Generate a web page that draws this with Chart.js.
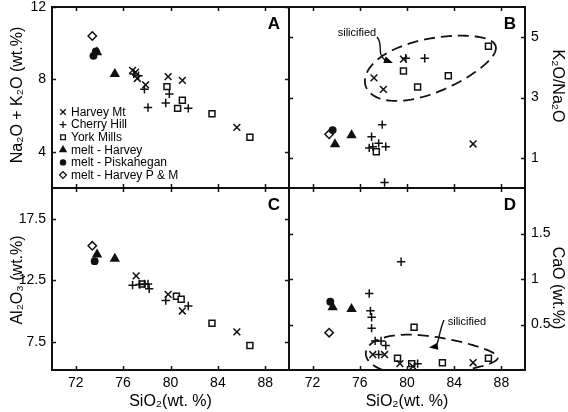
<!DOCTYPE html>
<html>
<head>
<meta charset="utf-8">
<script src="https://cdn.jsdelivr.net/npm/chart.js@4.4.1/dist/chart.umd.min.js"></script>
<style>
  html, body { margin: 0; padding: 0; background: #fff; }
  #wrap { position: relative; width: 568px; height: 412px; overflow: hidden; }
  #wrap canvas { position: absolute; left: -30px; top: -30px; }
</style>
</head>
<body>
<div id="wrap">
  <canvas id="panelA" width="628" height="472"></canvas>
  <canvas id="panelB" width="628" height="472"></canvas>
  <canvas id="panelC" width="628" height="472"></canvas>
  <canvas id="panelD" width="628" height="472"></canvas>
</div>
<script>
// series names (legend order)
const seriesNames = ['Harvey Mt', 'Cherry Hill', 'York Mills', 'melt - Harvey', 'melt - Piskahegan', 'melt - Harvey P & M'];

// A: SiO2 vs Na2O + K2O
const alkHarveyMt = [[76.8, 8.5], [77.05, 8.4], [77.2, 8.05], [77.9, 7.7], [79.8, 8.15], [81.0, 7.95], [85.6, 5.35]];
const alkCherryHill = [[76.9, 8.3], [77.3, 8.2], [77.8, 7.45], [78.1, 6.45], [79.6, 6.7], [79.9, 7.2], [81.5, 6.4]];
const alkYorkMills = [[79.7, 7.6], [80.6, 6.4], [81.0, 6.85], [83.5, 6.1], [86.7, 4.8]];
const alkMeltHarvey = [[73.8, 9.5], [75.3, 8.3]];
const alkMeltPiskahegan = [[73.5, 9.3], [73.7, 9.55]];
const alkMeltHarveyPM = [[73.4, 10.4]];

// B: SiO2 vs K2O/Na2O
const ratioHarveyMt = [[77.2, 3.65], [78.0, 3.27], [79.7, 4.27], [85.6, 1.46]];
const ratioCherryHill = [[76.8, 1.33], [77.0, 1.7], [77.1, 1.37], [77.6, 1.48], [77.9, 2.1], [78.1, 0.18], [78.2, 1.37], [79.9, 4.3], [81.5, 4.3]];
const ratioYorkMills = [[77.4, 1.2], [79.7, 3.88], [80.9, 3.35], [83.5, 3.72], [86.9, 4.7]];
const ratioMeltHarvey = [[73.9, 1.45], [75.3, 1.75]];
const ratioMeltPiskahegan = [[73.7, 1.92]];
const ratioMeltHarveyPM = [[73.4, 1.78]];

// C: SiO2 vs Al2O3
const alHarveyMt = [[77.1, 12.85], [79.8, 11.35], [81.0, 10.0], [85.6, 8.3]];
const alCherryHill = [[76.8, 12.1], [77.4, 12.15], [77.8, 12.2], [78.1, 12.2], [78.2, 11.8], [79.6, 10.85], [81.5, 10.4]];
const alYorkMills = [[77.6, 12.2], [80.5, 11.2], [80.9, 10.95], [83.5, 9.0], [86.7, 7.2]];
const alMeltHarvey = [[73.8, 14.6], [75.3, 14.25]];
const alMeltPiskahegan = [[73.6, 14.05]];
const alMeltHarveyPM = [[73.4, 15.3]];

// D: SiO2 vs CaO
const caHarveyMt = [[77.1, 0.17], [78.1, 0.17], [79.4, 0.07], [80.5, 0.04], [85.6, 0.08]];
const caCherryHill = [[76.8, 0.84], [76.9, 0.65], [77.0, 0.58], [77.0, 0.46], [77.3, 0.32], [77.8, 0.32], [78.2, 0.27], [77.6, 0.17], [79.5, 1.19], [80.9, 0.07]];
const caYorkMills = [[79.2, 0.13], [80.6, 0.47], [80.4, 0.07], [83.0, 0.08], [86.9, 0.13]];
const caMeltHarvey = [[73.7, 0.69], [75.3, 0.67]];
const caMeltPiskahegan = [[73.5, 0.75]];
const caMeltHarveyPM = [[73.4, 0.41]];

// tick labels
const sio2Labels = [72, 76, 80, 84, 88];
const alkLabels = [4, 8, 12];
const ratioLabels = [1, 3, 5];
const alLabels = [7.5, 12.5, 17.5];
const caLabels = [0.5, 1, 1.5];

const INK = '#111';
const FONT = '"Liberation Sans", Arial, Helvetica, sans-serif';
Chart.defaults.font.family = FONT;
Chart.defaults.color = '#000';

const markStyles = [
  { pointStyle: 'crossRot', radius: 4.8, fill: false },
  { pointStyle: 'cross', radius: 4.2, fill: false },
  { pointStyle: 'rect', radius: 4.2, fill: false },
  { pointStyle: 'triangle', radius: 4.5, fill: true },
  { pointStyle: 'circle', radius: 3.2, fill: true },
  { pointStyle: 'rectRot', radius: 4.2, fill: false }
];

// canvases sit 30px up/left of the page so axis paddings never push the plot
const OFF = 30, CW = 628, CH = 472;

// inward tick marks on all four sides plus the box
const frameTicks = {
  id: 'frameTicks',
  afterDraw(chart) {
    const { ctx, chartArea: a, scales: { x, y } } = chart;
    const len = 4;
    ctx.save();
    ctx.strokeStyle = INK;
    ctx.lineWidth = 1.5;
    ctx.beginPath();
    x.ticks.forEach(t => {
      const px = Math.round(x.getPixelForValue(t.value)) + 0.5;
      ctx.moveTo(px, a.bottom); ctx.lineTo(px, a.bottom - len);
      ctx.moveTo(px, a.top); ctx.lineTo(px, a.top + len);
    });
    y.ticks.forEach(t => {
      const py = Math.round(y.getPixelForValue(t.value)) + 0.5;
      ctx.moveTo(a.left, py); ctx.lineTo(a.left + len, py);
      ctx.moveTo(a.right, py); ctx.lineTo(a.right - len, py);
    });
    ctx.stroke();
    ctx.lineWidth = 2;
    ctx.strokeRect(a.left, a.top, a.right - a.left, a.bottom - a.top);
    ctx.restore();
  }
};

function letterPlugin(letter) {
  return {
    id: 'letter' + letter,
    afterDraw(chart) {
      const { ctx, chartArea: a } = chart;
      ctx.save();
      ctx.font = 'bold 17px ' + FONT;
      ctx.fillStyle = '#000';
      ctx.textAlign = 'right';
      ctx.textBaseline = 'top';
      ctx.fillText(letter, a.right - 9, a.top + 9);
      ctx.restore();
    }
  };
}

// rotated y-axis title, placed beside the plot box
function sideTitle(text, right, centerY) {
  return {
    id: 'sideTitle',
    afterDraw(chart) {
      const { ctx, chartArea: a } = chart;
      ctx.save();
      ctx.font = '16px ' + FONT;
      ctx.fillStyle = '#000';
      ctx.textAlign = 'center';
      ctx.textBaseline = 'middle';
      if (right) {
        ctx.translate(a.right + 32, a.top + centerY);
        ctx.rotate(Math.PI / 2);
      } else {
        ctx.translate(a.left - 34, a.top + centerY);
        ctx.rotate(-Math.PI / 2);
      }
      ctx.fillText(text, 0, 0);
      ctx.restore();
    }
  };
}

// legend drawn inside panel A
const legendInside = {
  id: 'legendInside',
  afterDraw(chart) {
    const { ctx, chartArea: a } = chart;
    ctx.save();
    ctx.font = '12px ' + FONT;
    ctx.textBaseline = 'middle';
    ctx.textAlign = 'left';
    chart.data.datasets.forEach((ds, i) => {
      const yy = a.top + 105 + i * 12.6;
      const xx = a.left + 11;
      ctx.strokeStyle = INK;
      ctx.fillStyle = ds.backgroundColor;
      ctx.lineWidth = 1.3;
      Chart.helpers.drawPoint(ctx, { pointStyle: ds.pointStyle, radius: ds.pointRadius * 0.8, rotation: 0, borderWidth: 1.3 }, xx, yy);
      ctx.fillStyle = '#000';
      ctx.fillText(ds.label, a.left + 19, yy + 0.5);
    });
    ctx.restore();
  }
};

// dashed "silicified" outline with label and arrow
function silicified(e) {
  return {
    id: 'silicified',
    afterDatasetsDraw(chart) {
      const { ctx, chartArea: a, scales: { x, y } } = chart;
      const cx = x.getPixelForValue(e.x), cy = y.getPixelForValue(e.y);
      const rot = e.angle * Math.PI / 180;
      ctx.save();
      ctx.beginPath();
      ctx.rect(a.left, a.top, a.right - a.left, a.bottom - a.top);
      ctx.clip();
      ctx.beginPath();
      for (let i = 0; i <= 160; i++) {
        const t = i / 160 * 2 * Math.PI;
        const u = e.a * Math.cos(t);
        const v = e.b * Math.sin(t) * (1 - e.egg * Math.cos(t));
        const px = cx + u * Math.cos(rot) - v * Math.sin(rot);
        const py = cy + u * Math.sin(rot) + v * Math.cos(rot);
        if (i) ctx.lineTo(px, py); else ctx.moveTo(px, py);
      }
      ctx.strokeStyle = INK;
      ctx.lineWidth = 1.8;
      ctx.setLineDash([11, 6]);
      ctx.stroke();
      ctx.setLineDash([]);

      // label + arrow
      const tx = x.getPixelForValue(e.textX), ty = y.getPixelForValue(e.textY);
      ctx.font = '11px ' + FONT;
      ctx.fillStyle = '#000';
      ctx.textAlign = 'center';
      ctx.textBaseline = 'middle';
      ctx.fillText('silicified', tx, ty);
      const p = e.arrow.map(q => [tx + q[0], ty + q[1]]);
      ctx.beginPath();
      ctx.moveTo(p[0][0], p[0][1]);
      ctx.bezierCurveTo(p[1][0], p[1][1], p[2][0], p[2][1], p[3][0], p[3][1]);
      ctx.lineWidth = 1.4;
      ctx.stroke();
      const tip = p[4], base = p[3];
      const ang = Math.atan2(tip[1] - base[1], tip[0] - base[0]);
      ctx.beginPath();
      ctx.moveTo(tip[0], tip[1]);
      ctx.lineTo(tip[0] - 9 * Math.cos(ang) + 3.5 * Math.sin(ang), tip[1] - 9 * Math.sin(ang) - 3.5 * Math.cos(ang));
      ctx.lineTo(tip[0] - 9 * Math.cos(ang) - 3.5 * Math.sin(ang), tip[1] - 9 * Math.sin(ang) + 3.5 * Math.cos(ang));
      ctx.closePath();
      ctx.fill();
      ctx.restore();
    }
  };
}

const labelIf = list => v => list.includes(Math.round(v * 100) / 100) ? String(Math.round(v * 100) / 100) : null;

function makePanel(id, cfg) {
  const area = cfg.area; // page coords of plot box
  const yW = cfg.yRight ? 43 : 52;
  const xH = cfg.showX ? 42 : 0;
  const padding = {
    left: cfg.yRight ? OFF + area.left : OFF + area.left - yW,
    right: cfg.yRight ? (CW - OFF) - area.right - yW : (CW - OFF) - area.right,
    top: OFF + area.top,
    bottom: (CH - OFF) - area.bottom - xH
  };
  const datasets = cfg.series.map((pts, i) => ({
    label: seriesNames[i],
    data: pts.map(p => ({ x: p[0], y: p[1] })),
    pointStyle: markStyles[i].pointStyle,
    pointRadius: markStyles[i].radius,
    borderColor: INK,
    backgroundColor: markStyles[i].fill ? INK : '#fff',
    borderWidth: 1.5
  }));
  return new Chart(document.getElementById(id), {
    type: 'scatter',
    data: { datasets },
    options: {
      responsive: false,
      animation: false,
      events: [],
      devicePixelRatio: 1,
      layout: { padding },
      plugins: { legend: { display: false }, tooltip: { enabled: false } },
      scales: {
        x: {
          type: 'linear', min: 70, max: 90,
          grid: { display: false, drawTicks: false },
          border: { display: false },
          ticks: {
            display: cfg.showX, stepSize: 2, autoSkip: false, maxRotation: 0,
            padding: 5, font: { size: 14 }, color: '#000',
            callback: labelIf(sio2Labels)
          },
          title: {
            display: cfg.showX, text: 'SiO\u2082(wt. %)', color: '#000',
            font: { size: 16 }, padding: { top: 0, bottom: 1 }
          },
          afterFit(s) { s.height = xH; }
        },
        y: {
          type: 'linear', min: cfg.yMin, max: cfg.yMax,
          position: cfg.yRight ? 'right' : 'left',
          grid: { display: false, drawTicks: false },
          border: { display: false },
          ticks: {
            stepSize: cfg.yStep, autoSkip: false, padding: 6,
            font: { size: 14 }, color: '#000',
            callback: labelIf(cfg.yLabels)
          },
          title: { display: false },
          afterFit(s) { s.width = yW; }
        }
      }
    },
    plugins: cfg.plugins
  });
}

makePanel('panelA', {
  area: { left: 52, top: 7, right: 289, bottom: 188 },
  yMin: 2, yMax: 12, yStep: 2, yLabels: alkLabels,
  series: [alkHarveyMt, alkCherryHill, alkYorkMills, alkMeltHarvey, alkMeltPiskahegan, alkMeltHarveyPM],
  plugins: [frameTicks, letterPlugin('A'), legendInside, sideTitle('Na\u2082O + K\u2082O (wt.%)', false, 88)]
});

makePanel('panelB', {
  area: { left: 289, top: 7, right: 525, bottom: 188 },
  yRight: true,
  yMin: 0, yMax: 6, yStep: 1, yLabels: ratioLabels,
  series: [ratioHarveyMt, ratioCherryHill, ratioYorkMills, ratioMeltHarvey, ratioMeltPiskahegan, ratioMeltHarveyPM],
  plugins: [frameTicks, letterPlugin('B'), sideTitle('K\u2082O/Na\u2082O', true, 79), silicified({
    x: 82.0, y: 4.05, a: 68, b: 27, egg: 0.2, angle: -17,
    textX: 75.76, textY: 5.14,
    arrow: [[20, 4], [27, 12], [19, 20], [28, 27], [36, 30]]
  })]
});

makePanel('panelC', {
  area: { left: 52, top: 188, right: 289, bottom: 370 },
  showX: true,
  yMin: 5.2, yMax: 20, yStep: 2.5, yLabels: alLabels,
  series: [alHarveyMt, alCherryHill, alYorkMills, alMeltHarvey, alMeltPiskahegan, alMeltHarveyPM],
  plugins: [frameTicks, letterPlugin('C'), sideTitle('Al\u2082O\u2083 (wt.%)', false, 92)]
});

makePanel('panelD', {
  area: { left: 289, top: 188, right: 525, bottom: 370 },
  showX: true, yRight: true,
  yMin: 0, yMax: 2, yStep: 0.5, yLabels: caLabels,
  series: [caHarveyMt, caCherryHill, caYorkMills, caMeltHarvey, caMeltPiskahegan, caMeltHarveyPM],
  plugins: [frameTicks, letterPlugin('D'), sideTitle('CaO (wt.%)', true, 100), silicified({
    x: 82.1, y: 0.16, a: 66, b: 19, egg: 0.35, angle: 2,
    textX: 85.08, textY: 0.527,
    arrow: [[-23, -2], [-28, 10], [-28, 20], [-31, 24.5], [-38, 25.5]]
  })]
});
</script>
</body>
</html>
